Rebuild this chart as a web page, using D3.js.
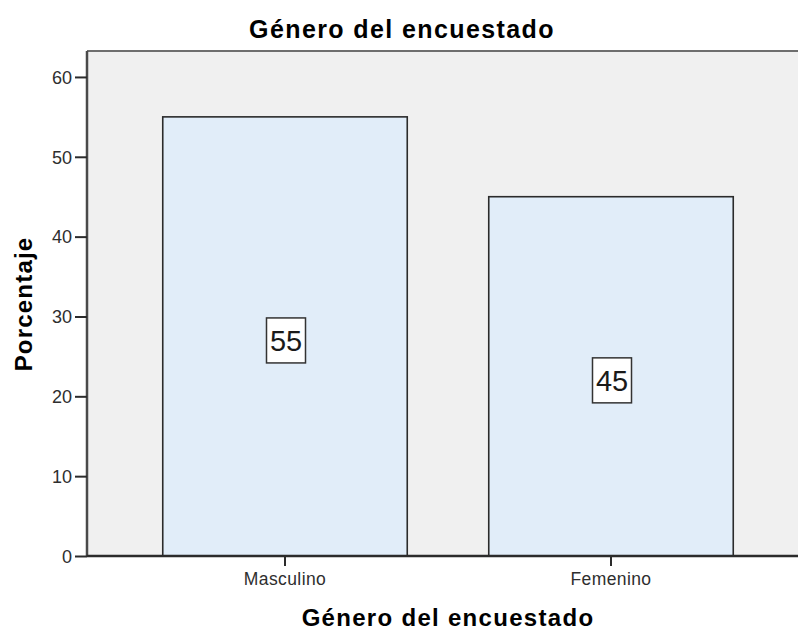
<!DOCTYPE html>
<html><head><meta charset="utf-8">
<script src="https://cdn.jsdelivr.net/npm/d3@7"></script>
<style>body{margin:0;background:#fff;} svg{display:block;}</style>
</head><body>
<svg id="c" width="798" height="631"></svg>
<script>
const categories = ["Masculino", "Femenino"];
const values = [55, 45];
const yTicks = [0, 10, 20, 30, 40, 50, 60];
const title = "Género del encuestado";
const xTitle = "Género del encuestado";
const yTitle = "Porcentaje";

const svg = d3.select("#c");
const L = 87, T = 51, B = 556, R = 800;
const y = d3.scaleLinear().domain([0, 63.25]).range([B, T]);
const x = d3.scaleBand().domain(categories).range([122, 774]).paddingInner(0.25).paddingOuter(0.125);

svg.append("rect").attr("x", L).attr("y", T).attr("width", R - L).attr("height", B - T).attr("fill", "#f0f0f0");
svg.append("line").attr("x1", L).attr("x2", R).attr("y1", T).attr("y2", T).attr("stroke", "#6e6e6e").attr("stroke-width", 2);

svg.selectAll("rect.bar").data(values).join("rect").attr("class", "bar")
  .attr("x", (d, i) => x(categories[i])).attr("y", d => y(d))
  .attr("width", x.bandwidth()).attr("height", d => y(0) - y(d))
  .attr("fill", "#e1edf9").attr("stroke", "#2b2b2b").attr("stroke-width", 1.6);

// y axis
const ya = d3.axisLeft(y).tickValues(yTicks).tickSize(12).tickPadding(3).tickFormat(d3.format("d"));
const gy = svg.append("g").attr("transform", `translate(${L},0)`).call(ya);
gy.select(".domain").attr("d", `M0,${T}V${B}`).attr("stroke", "#4a4a4a").attr("stroke-width", 2.5);
gy.selectAll(".tick line").attr("stroke", "#2b2b2b").attr("stroke-width", 2);
gy.selectAll(".tick text").attr("font-family", "Liberation Sans, Arial, sans-serif").attr("font-size", 18).attr("fill", "#2e2e2e").attr("dy", "0.35em");

// x axis
const xa = d3.axisBottom(x).tickSize(10).tickPadding(7);
const gx = svg.append("g").attr("transform", `translate(0,${B})`).call(xa);
gx.select(".domain").attr("d", `M${L},0H${R}`).attr("stroke", "#2b2b2b").attr("stroke-width", 2.5);
gx.selectAll(".tick line").attr("stroke", "#2b2b2b").attr("stroke-width", 2);
gx.selectAll(".tick text").attr("font-family", "Liberation Sans, Arial, sans-serif").attr("font-size", 17.5).attr("fill", "#2e2e2e").attr("letter-spacing", "0.4px");

// value labels
const lab = svg.selectAll("g.lab").data(values).join("g").attr("class", "lab")
  .attr("transform", (d, i) => `translate(${x(categories[i]) + x.bandwidth() / 2 + 1},${(y(d) + y(0)) / 2 + 4})`);
lab.append("rect").attr("x", -19.5).attr("y", -22.5).attr("width", 39).attr("height", 45)
  .attr("fill", "#fff").attr("stroke", "#333").attr("stroke-width", 1.5);
lab.append("text").text(d => d).attr("text-anchor", "middle").attr("dy", "0.36em")
  .attr("font-family", "Liberation Sans, Arial, sans-serif").attr("font-size", 29).attr("fill", "#1a1a1a");

// titles
svg.append("text").text(title).attr("x", 402).attr("y", 38).attr("text-anchor", "middle")
  .attr("font-family", "Liberation Sans, Arial, sans-serif").attr("font-weight", "bold").attr("font-size", 25).attr("letter-spacing", "1.4px").attr("fill", "#000");
svg.append("text").text(xTitle).attr("x", 448).attr("y", 626).attr("text-anchor", "middle")
  .attr("font-family", "Liberation Sans, Arial, sans-serif").attr("font-weight", "bold").attr("font-size", 24).attr("letter-spacing", "1.3px").attr("fill", "#000");
svg.append("text").text(yTitle).attr("transform", `translate(32,304) rotate(-90)`).attr("text-anchor", "middle")
  .attr("font-family", "Liberation Sans, Arial, sans-serif").attr("font-weight", "bold").attr("font-size", 24).attr("letter-spacing", "1.2px").attr("fill", "#000");
</script>
</body></html>
